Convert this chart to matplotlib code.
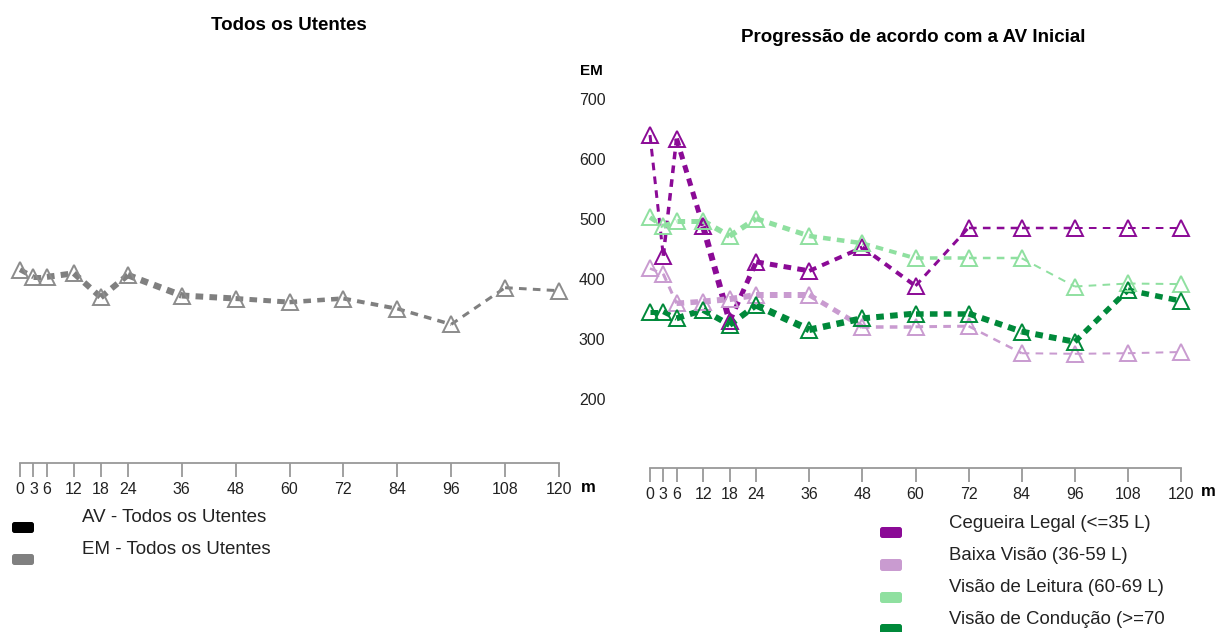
import matplotlib
matplotlib.use("Agg")
import matplotlib.pyplot as plt
from matplotlib.patches import FancyBboxPatch
from matplotlib.transforms import IdentityTransform

plt.rcParams['font.family'] = ['Liberation Sans', 'DejaVu Sans']
plt.rcParams['lines.scale_dashes'] = False

# ---- data ----
months = [0, 3, 6, 12, 18, 24, 36, 48, 60, 72, 84, 96, 108, 120]
tick_labels = ['0', '3', '6', '12', '18', '24', '36', '48', '60', '72', '84', '96', '108', '120']

em_all = [416, 404, 404, 410, 370, 407, 373, 368, 362, 368, 351, 325, 386, 381]

groups = ['Cegueira Legal (<=35 L)', 'Baixa Visão (36-59 L)',
          'Visão de Leitura (60-69 L)', 'Visão de Condução (>=70']
em_cegueira = [640, 439, 634, 488, 330, 429, 414, 453, 389, 486, 486, 486, 486, 486]
em_baixa = [418, 409, 360, 363, 367, 374, 374, 321, 321, 322, 277, 276, 277, 279]
em_leitura = [503, 488, 497, 497, 472, 501, 472, 460, 435, 435, 435, 388, 393, 392]
em_conducao = [346, 346, 335, 349, 324, 357, 316, 335, 343, 343, 313, 296, 382, 364]

y_ticks = [200, 300, 400, 500, 600, 700]

# ---- styles ----
GRAY = '#808080'
colors = ['#8b0a96', '#c99bd0', '#8fe0a0', '#00893a']
left_lw = [5, 5, 6, 6, 6, 6.5, 6, 5, 4.5, 4, 3.5, 3, 3]
right_lw = [
    [3, 3.5, 5, 6, 5, 5, 4, 4, 3, 2.5, 2.5, 2, 2],
    [2.5, 3, 5.5, 6, 6, 6, 5, 3.5, 3, 2.5, 2, 2, 2],
    [4.5, 5, 5, 5.5, 5.5, 5, 4.5, 4, 3.5, 2.5, 2, 2, 2],
    [5, 5, 6, 6, 6, 7, 6.5, 6, 5.5, 6, 6, 5.5, 5.5],
]
PX = 0.72  # points per pixel

W, H = 1219, 632
fig = plt.figure(figsize=(W / 100, H / 100), dpi=100)


def fx(px):
    return px / W


def fy(py):
    return 1 - py / H


def draw_series(ax, x, y, color, widths, edge=None):
    for i in range(len(x) - 1):
        ax.plot(x[i:i + 2], y[i:i + 2], color=color, lw=widths[i] * PX,
                linestyle=(0, (5.5, 4.5)), dash_capstyle='butt',
                solid_capstyle='butt', clip_on=False, zorder=2)
    ax.plot(x, y, linestyle='none', marker='^', markersize=11,
            markerfacecolor='none', markeredgecolor=edge or color,
            markeredgewidth=1.4, clip_on=False, zorder=3)


def style_axis(ax, ylim):
    ax.set_xlim(0, 120)
    ax.set_ylim(*ylim)
    for s in ['top', 'right', 'left']:
        ax.spines[s].set_visible(False)
    ax.spines['bottom'].set_color('#999999')
    ax.spines['bottom'].set_linewidth(1.3)
    ax.set_xticks(months)
    ax.set_xticklabels(tick_labels, fontsize=11.5, color='#222222')
    ax.tick_params(axis='x', direction='out', length=10, width=1.3,
                   color='#999999', pad=4)
    ax.patch.set_visible(False)


# left axes
axL = fig.add_axes([fx(20), fy(463), fx(539), fy(68.95) - fy(463)])
style_axis(axL, (94.3, 750))
axL.set_yticks([])
draw_series(axL, months, em_all, GRAY, left_lw, edge='#8c8c8c')

# right axes
axR = fig.add_axes([fx(650), fy(468), fx(531), fy(68.95) - fy(468)])
style_axis(axR, (86, 750))
axR.set_yticks(y_ticks)
axR.set_yticklabels([str(v) for v in y_ticks], fontsize=11.5, color='#222222')
axR.tick_params(axis='y', length=0, pad=32)
for vals, c, w in zip([em_cegueira, em_baixa, em_leitura, em_conducao], colors, right_lw):
    draw_series(axR, months, vals, c, w)

# titles and labels
fig.text(fx(289), fy(26), 'Todos os Utentes', ha='center', va='center',
         fontsize=13.5, fontweight='bold')
fig.text(fx(913), fy(37), 'Progressão de acordo com a AV Inicial', ha='center',
         va='center', fontsize=13.5, fontweight='bold')
fig.text(fx(591), fy(71), 'EM', ha='center', va='center', fontsize=11,
         fontweight='bold')
fig.text(fx(581), fy(487), 'm', ha='left', va='center', fontsize=12, fontweight='bold')
fig.text(fx(1201), fy(492), 'm', ha='left', va='center', fontsize=12, fontweight='bold')


def swatch(x0, y0, x1, y1, color):
    p = FancyBboxPatch((x0, H - y1), x1 - x0, y1 - y0,
                       boxstyle='round,pad=0,rounding_size=2.5',
                       transform=IdentityTransform(), facecolor=color,
                       edgecolor='none')
    fig.add_artist(p)


# left legend
swatch(12, 522, 34, 533, '#000000')
swatch(12, 554, 34, 565, GRAY)
fig.text(fx(82), fy(518), 'AV - Todos os Utentes', ha='left', va='center', fontsize=13.5,
         color='#222222')
fig.text(fx(82), fy(549), 'EM - Todos os Utentes', ha='left', va='center', fontsize=13.5,
         color='#222222')

# right legend
sw_y = [(527, 538), (559, 571), (592, 603), (624, 635)]
txt_y = [523, 556, 588, 620]
for g, c, (a, b), ty in zip(groups, colors, sw_y, txt_y):
    swatch(880, a, 902, b, c)
    fig.text(fx(949), fy(ty), g, ha='left', va='center', fontsize=13.4, color='#222222')

fig.savefig('out.png', dpi=100)
